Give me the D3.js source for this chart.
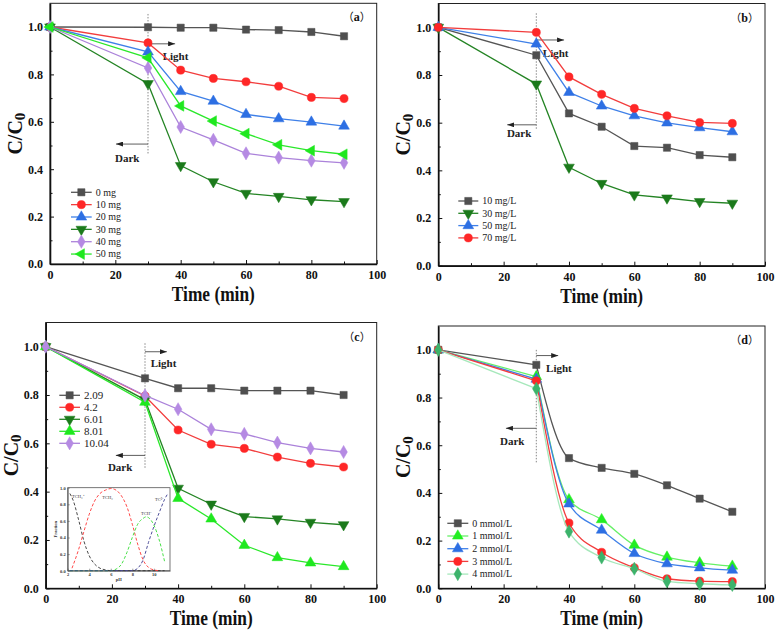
<!DOCTYPE html>
<html><head><meta charset="utf-8">
<script src="https://cdn.jsdelivr.net/npm/d3@7"></script>
<style>body{margin:0;background:#fff} text{font-family:"Liberation Serif","Times New Roman",serif}</style>
</head><body>
<script>
// ---------- DATA ----------
const times = [0, 30, 40, 50, 60, 70, 80, 90];
const xTicks = [0, 20, 40, 60, 80, 100];
const yTicks = [0, 0.2, 0.4, 0.6, 0.8, 1.0];

// (a) catalyst dosage
const labelsA = ["0 mg", "10 mg", "20 mg", "30 mg", "40 mg", "50 mg"];
const a0  = [1.0, 0.999, 0.997, 0.997, 0.989, 0.987, 0.979, 0.961];
const a10 = [1.0, 0.933, 0.818, 0.783, 0.769, 0.750, 0.703, 0.698];
const a20 = [1.0, 0.895, 0.728, 0.687, 0.631, 0.613, 0.599, 0.582];
const a30 = [1.0, 0.761, 0.415, 0.347, 0.298, 0.285, 0.271, 0.263];
const a40 = [1.0, 0.827, 0.578, 0.524, 0.467, 0.449, 0.436, 0.427];
const a50 = [1.0, 0.870, 0.667, 0.603, 0.550, 0.503, 0.478, 0.463];

// (b) initial concentration
const labelsB = ["10 mg/L", "30 mg/L", "50 mg/L", "70 mg/L"];
const b10 = [1.0, 0.883, 0.639, 0.583, 0.502, 0.495, 0.464, 0.455];
const b30 = [1.0, 0.762, 0.413, 0.345, 0.297, 0.284, 0.269, 0.262];
const b50 = [1.0, 0.930, 0.727, 0.670, 0.629, 0.599, 0.579, 0.562];
const b70 = [1.0, 0.979, 0.792, 0.719, 0.660, 0.629, 0.601, 0.597];

// (c) pH
const labelsC = ["2.09", "4.2", "6.01", "8.01", "10.04"];
const c209  = [1.0, 0.869, 0.828, 0.828, 0.818, 0.818, 0.818, 0.800];
const c42   = [1.0, 0.796, 0.655, 0.596, 0.579, 0.543, 0.517, 0.502];
const c601  = [1.0, 0.780, 0.414, 0.348, 0.297, 0.287, 0.273, 0.263];
const c801  = [1.0, 0.770, 0.372, 0.287, 0.178, 0.127, 0.105, 0.090];
const c1004 = [1.0, 0.798, 0.741, 0.658, 0.639, 0.603, 0.579, 0.564];

// (d) oxidant concentration
const labelsD = ["0 mmol/L", "1 mmol/L", "2 mmol/L", "3 mmol/L", "4 mmol/L"];
const d0 = [1.0, 0.937, 0.546, 0.505, 0.480, 0.432, 0.376, 0.321];
const d1 = [1.0, 0.888, 0.372, 0.288, 0.181, 0.131, 0.107, 0.093];
const d2 = [1.0, 0.877, 0.354, 0.244, 0.146, 0.103, 0.086, 0.076];
const d3v = [1.0, 0.870, 0.274, 0.151, 0.086, 0.040, 0.030, 0.028];
const d4 = [1.0, 0.837, 0.238, 0.129, 0.082, 0.029, 0.019, 0.014];

// inset of (c): tetracycline species fraction vs pH
const insetLabels = ["TCH\u2083\u207A", "TCH\u2082", "TCH\u207B", "TC\u00B2\u207B"];
const phTCH3 = [2.2, 2.5, 3, 3.5, 4, 4.5, 5, 5.5, 6, 7, 8, 9, 10, 11];
const frTCH3 = [0.93, 0.85, 0.62, 0.36, 0.18, 0.08, 0.03, 0.01, 0, 0, 0, 0, 0, 0];
const phTCH2 = [2.4, 3, 3.5, 4, 4.5, 5, 5.5, 6, 6.5, 7, 7.5, 8, 8.5, 9, 9.5, 10, 10.5];
const frTCH2 = [0.03, 0.25, 0.47, 0.68, 0.84, 0.93, 0.97, 0.99, 0.97, 0.90, 0.77, 0.56, 0.32, 0.13, 0.04, 0.01, 0];
const phTCH = [2.2, 6, 6.5, 7, 7.5, 8, 8.5, 9, 9.3, 9.5, 10, 10.5, 11];
const frTCH = [0, 0, 0.02, 0.08, 0.22, 0.40, 0.56, 0.63, 0.65, 0.64, 0.55, 0.37, 0.11];
const phTC = [2.2, 8, 8.5, 9, 9.5, 10, 10.5, 11, 11.3];
const frTC = [0, 0, 0.03, 0.13, 0.34, 0.53, 0.70, 0.86, 0.93];
const insetXTicks = [2, 4, 6, 8, 10];
const insetYTicks = [0, 0.2, 0.4, 0.6, 0.8, 1.0];

// ---------- STYLE ----------
const GRAY = {m: "#4f4f4f", l: "#555555"};
const RED = {m: "#ff2727", l: "#f23d3d"};
const BLUE = {m: "#2d6fe3", l: "#3f80e8"};
const DGREEN = {m: "#1b7a1b", l: "#248424"};
const PURPLE = {m: "#b58ae3", l: "#ab82da"};
const LGREEN = {m: "#1fe81f", l: "#2ae82a"};
const LGREEN2 = {m: "#22ee22", l: "#66f066"};
const MGREEN = {m: "#3cb36b", l: "#a6e8bb"};

const SQ = {t: d3.symbolSquare, r: 0, s: 52};
const CI = {t: d3.symbolCircle, r: 0, s: 52};
const TU = {t: d3.symbolTriangle, r: 0, s: 50};
const TD = {t: d3.symbolTriangle, r: 180, s: 50};
const TL = {t: d3.symbolTriangle, r: -90, s: 50};
const DI = {t: d3.symbolDiamond, r: 0, s: 50};

const svg = d3.select("body").append("svg").attr("width", 780).attr("height", 635);
const defs = svg.append("defs");
defs.append("marker").attr("id", "arr").attr("viewBox", "0 0 7 5")
  .attr("refX", 7).attr("refY", 2.5).attr("markerWidth", 7).attr("markerHeight", 5)
  .attr("markerUnits", "userSpaceOnUse").attr("orient", "auto")
  .append("path").attr("d", "M0,0 L7,2.5 L0,5 Z").attr("fill", "#222");

const panels = [
  {L: 50, R: 376.7, T: 3.3, B: 264, tag: "a", smooth: false,
   series: [[labelsA[0], a0, GRAY, SQ], [labelsA[1], a10, RED, CI], [labelsA[2], a20, BLUE, TU],
            [labelsA[3], a30, DGREEN, TD], [labelsA[4], a40, PURPLE, DI], [labelsA[5], a50, LGREEN, TL]],
   leg: {x: 21, y: 192.3, dy: 12.35, w: 20.7, fs: 10},
   ann: {v1: 1.055, v2: 0.466, la: 0.929, lx2: 38.3, ltx: 34.5, lty: 0.86, da: 0.506, dx2: 20.2, dtx: 19.9, dty: 0.432}},
  {L: 438.3, R: 765, T: 3.5, B: 265.7, tag: "b", smooth: false,
   series: [[labelsB[0], b10, GRAY, SQ], [labelsB[1], b30, DGREEN, TD], [labelsB[2], b50, BLUE, TU], [labelsB[3], b70, RED, CI]],
   leg: {x: 20, y: 201, dy: 12.3, w: 20, fs: 10},
   ann: {v1: 1.059, v2: 0.569, la: 0.947, lx2: 38.5, ltx: 32.0, lty: 0.875, da: 0.591, dx2: 21.1, dtx: 21.0, dty: 0.538}},
  {L: 45.7, R: 376.7, T: 322.5, B: 588.3, tag: "c", smooth: false,
   series: [[labelsC[0], c209, GRAY, SQ], [labelsC[1], c42, RED, CI], [labelsC[2], c601, DGREEN, TD],
            [labelsC[3], c801, LGREEN, TU], [labelsC[4], c1004, PURPLE, DI]],
   leg: {x: 13.6, y: 395.3, dy: 12, w: 20.7, fs: 11},
   ann: {v1: 1.014, v2: 0.497, la: 0.979, lx2: 36.6, ltx: 31.7, lty: 0.914, da: 0.550, dx2: 21.2, dtx: 18.8, dty: 0.486},
   inset: true},
  {L: 438.3, R: 765, T: 326, B: 588.3, tag: "d", smooth: true,
   series: [[labelsD[0], d0, GRAY, SQ], [labelsD[1], d1, LGREEN2, TU], [labelsD[2], d2, BLUE, TU],
            [labelsD[3], d3v, RED, CI], [labelsD[4], d4, MGREEN, DI]],
   leg: {x: 9, y: 523.3, dy: 12.7, w: 21, fs: 10},
   ann: {v1: 1.0, v2: 0.525, la: 0.976, lx2: 36.7, ltx: 33.0, lty: 0.906, da: 0.671, dx2: 20.7, dtx: 18.9, dty: 0.603}}
];

function sym(g, x, y, st, color) {
  g.append("path").attr("d", d3.symbol().type(st.t).size(st.s)())
    .attr("transform", `translate(${x},${y}) rotate(${st.r})`)
    .attr("fill", color).attr("stroke", color).attr("stroke-width", 0.5);
}

panels.forEach(p => {
  const g = svg.append("g");
  const x = d3.scaleLinear().domain([0, 100]).range([p.L, p.R]);
  const y = d3.scaleLinear().domain([0, 1.1]).range([p.B, p.T]);

  // frame
  g.append("rect").attr("x", p.L).attr("y", p.T).attr("width", p.R - p.L).attr("height", p.B - p.T)
    .attr("fill", "none").attr("stroke", "#222").attr("stroke-width", 1);

  // axes (ticks inward)
  const xa = g.append("g").attr("transform", `translate(0,${p.B})`)
    .call(d3.axisBottom(x).tickValues(xTicks).tickSize(-4).tickSizeOuter(0).tickPadding(8));
  g.append("g").attr("transform", `translate(0,${p.B})`)
    .call(d3.axisBottom(x).tickValues([10, 30, 50, 70, 90]).tickSize(-2.5).tickSizeOuter(0).tickFormat(""))
    .select(".domain").remove();
  const ya = g.append("g").attr("transform", `translate(${p.L},0)`)
    .call(d3.axisLeft(y).tickValues(yTicks).tickSize(-4).tickSizeOuter(0).tickPadding(7).tickFormat(d3.format(".1f")));
  g.append("g").attr("transform", `translate(${p.L},0)`)
    .call(d3.axisLeft(y).tickValues([0.1, 0.3, 0.5, 0.7, 0.9]).tickSize(-2.5).tickSizeOuter(0).tickFormat(""))
    .select(".domain").remove();
  [xa, ya].forEach(a => {
    a.select(".domain").attr("stroke", "#111").attr("stroke-width", 1.6);
    a.selectAll("text").attr("font-family", "Liberation Serif").attr("font-weight", "bold")
      .attr("font-size", 12).attr("fill", "#111");
  });
  xa.selectAll("text").attr("dy", "0.6em");
  g.selectAll(".tick line").attr("stroke", "#111").attr("stroke-width", 1);

  // titles
  g.append("text").attr("x", (p.L + p.R) / 2).attr("y", p.B + 37).attr("text-anchor", "middle")
    .attr("font-size", 20).attr("font-weight", "bold").attr("textLength", 83).attr("lengthAdjust", "spacingAndGlyphs")
    .attr("fill", "#111").text("Time (min)");
  const yt = g.append("text").attr("transform", `translate(${p.L - 28},${(p.T + p.B) / 2}) rotate(-90)`)
    .attr("text-anchor", "middle").attr("font-size", 20).attr("font-weight", "bold").attr("fill", "#111");
  yt.append("tspan").text("C/C");
  yt.append("tspan").attr("font-size", 15).attr("dy", 3).text("0");

  // panel tag
  const tg = g.append("text").attr("x", p.R - 6).attr("y", p.T + 18).attr("text-anchor", "end")
    .attr("font-size", 11).attr("font-weight", "bold").attr("fill", "#111");
  tg.append("tspan").attr("font-family", "Noto Sans CJK SC").attr("font-weight", "normal").text("\uFF08");
  tg.append("tspan").attr("font-size", 12).text(p.tag);
  tg.append("tspan").attr("font-family", "Noto Sans CJK SC").attr("font-weight", "normal").text("\uFF09");

  // Light/Dark annotations
  const A = p.ann;
  g.append("line").attr("x1", x(30)).attr("x2", x(30)).attr("y1", y(A.v1)).attr("y2", y(A.v2))
    .attr("stroke", "#888").attr("stroke-width", 1).attr("stroke-dasharray", "1.5,1.5");
  g.append("line").attr("x1", x(30)).attr("x2", x(A.lx2)).attr("y1", y(A.la)).attr("y2", y(A.la))
    .attr("stroke", "#333").attr("stroke-width", 0.8).attr("marker-end", "url(#arr)");
  g.append("line").attr("x1", x(30)).attr("x2", x(A.dx2)).attr("y1", y(A.da)).attr("y2", y(A.da))
    .attr("stroke", "#333").attr("stroke-width", 0.8).attr("marker-end", "url(#arr)");
  g.append("text").attr("x", x(A.ltx)).attr("y", y(A.lty)).attr("font-size", 11).attr("font-weight", "bold")
    .attr("fill", "#222").text("Light");
  g.append("text").attr("x", x(A.dtx)).attr("y", y(A.dty)).attr("font-size", 11).attr("font-weight", "bold")
    .attr("fill", "#222").text("Dark");

  // series
  const lin = d3.line().x(d => x(d[0])).y(d => y(d[1]));
  const spl = d3.line().x(d => x(d[0])).y(d => y(d[1])).curve(d3.curveMonotoneX);
  p.series.forEach(([name, vals, col, st]) => {
    const pts = vals.map((v, i) => [times[i], v]);
    if (p.smooth) {
      g.append("path").attr("d", lin(pts.slice(0, 2))).attr("fill", "none").attr("stroke", col.l).attr("stroke-width", 1.3);
      g.append("path").attr("d", spl(pts.slice(1))).attr("fill", "none").attr("stroke", col.l).attr("stroke-width", 1.3);
    } else {
      g.append("path").attr("d", lin(pts)).attr("fill", "none").attr("stroke", col.l).attr("stroke-width", 1.3);
    }
    pts.forEach(d => sym(g, x(d[0]), y(d[1]), st, col.m));
  });

  // legend
  const lg = p.leg;
  p.series.forEach(([name, vals, col, st], i) => {
    const yy = lg.y + i * lg.dy;
    const x0 = p.L + lg.x;
    g.append("line").attr("x1", x0).attr("x2", x0 + lg.w).attr("y1", yy).attr("y2", yy)
      .attr("stroke", col.l).attr("stroke-width", 1.3);
    sym(g, x0 + lg.w / 2, yy, st, col.m);
    g.append("text").attr("x", x0 + lg.w + 4).attr("y", yy).attr("dy", "0.33em")
      .attr("font-size", lg.fs).attr("fill", "#222").text(name);
  });

  // inset
  if (p.inset) {
    const IL = 67.7, IR = 170, IT = 487.7, IB = 570.7;
    const ix = d3.scaleLinear().domain([2, 11.5]).range([IL, IR]);
    const iy = d3.scaleLinear().domain([0, 1.0]).range([IB, IT]);
    const ig = g.append("g");
    ig.append("rect").attr("x", IL).attr("y", IT).attr("width", IR - IL).attr("height", IB - IT)
      .attr("fill", "#fff").attr("stroke", "#555").attr("stroke-width", 0.8);
    const ixa = ig.append("g").attr("transform", `translate(0,${IB})`)
      .call(d3.axisBottom(ix).tickValues(insetXTicks).tickSize(-2).tickSizeOuter(0).tickPadding(2));
    const iya = ig.append("g").attr("transform", `translate(${IL},0)`)
      .call(d3.axisLeft(iy).tickValues(insetYTicks).tickSize(-2).tickSizeOuter(0).tickPadding(2).tickFormat(d3.format(".1f")));
    [ixa, iya].forEach(a => {
      a.select(".domain").attr("stroke", "#555").attr("stroke-width", 0.8);
      a.selectAll(".tick line").attr("stroke", "#555").attr("stroke-width", 0.6);
      a.selectAll("text").attr("font-size", 4.5).attr("font-weight", "bold").attr("fill", "#333")
        .attr("font-family", "Liberation Serif");
    });
    ig.append("text").attr("transform", `translate(${IL - 11},${(IT + IB) / 2}) rotate(-90)`)
      .attr("text-anchor", "middle").attr("font-size", 4.5).attr("font-weight", "bold").attr("fill", "#333").text("Fraction");
    ig.append("text").attr("x", (IL + IR) / 2).attr("y", IB + 10).attr("text-anchor", "middle")
      .attr("font-size", 4.5).attr("font-weight", "bold").attr("fill", "#333").text("pH");
    const il = d3.line().x(d => ix(d[0])).y(d => iy(d[1])).curve(d3.curveMonotoneX);
    const species = [[phTCH3, frTCH3, "#333333"], [phTCH2, frTCH2, "#ff3535"], [phTCH, frTCH, "#33dd33"], [phTC, frTC, "#3b3b8f"]];
    species.forEach(([ph, fr, c]) => {
      ig.append("path").attr("d", il(ph.map((v, i) => [v, fr[i]]))).attr("fill", "none")
        .attr("stroke", c).attr("stroke-width", 0.9).attr("stroke-dasharray", "3,2");
    });
    const labPos = [[2.4, 0.88], [5.2, 0.86], [8.8, 0.67], [10.1, 0.84]];
    insetLabels.forEach((t, i) => {
      ig.append("text").attr("x", ix(labPos[i][0])).attr("y", iy(labPos[i][1]))
        .attr("font-size", 4.5).attr("fill", "#333").text(t);
    });
  }
});
</script>
</body></html>
